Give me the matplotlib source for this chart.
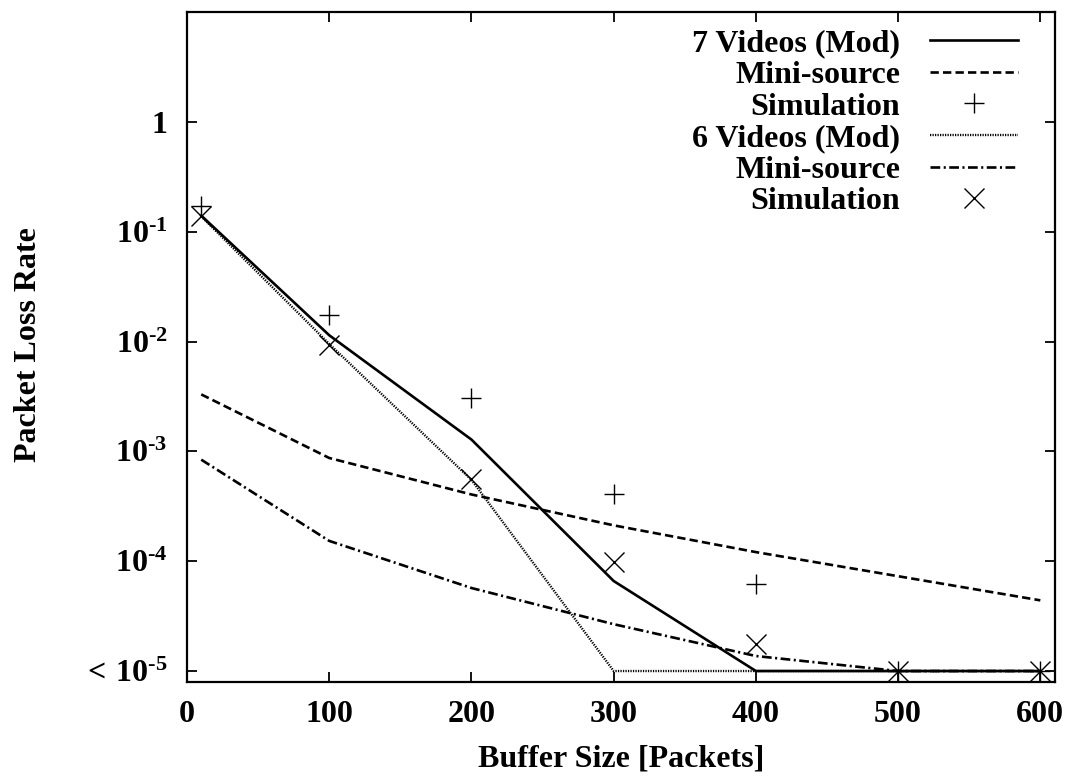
import matplotlib
matplotlib.use('Agg')
import matplotlib.pyplot as plt
import matplotlib.ticker as mticker

plt.rcParams['font.family'] = ['Liberation Serif', 'DejaVu Serif']
plt.rcParams['font.weight'] = 'bold'
plt.rcParams['font.size'] = 23
plt.rcParams['mathtext.fontset'] = 'custom'
plt.rcParams['mathtext.rm'] = 'Liberation Serif:bold'
plt.rcParams['mathtext.it'] = 'Liberation Serif:bold'
plt.rcParams['mathtext.bf'] = 'Liberation Serif:bold'
plt.rcParams['lines.scale_dashes'] = False

buffer_size = [10, 100, 200, 300, 400, 500, 600]

# 7 video sources
mod7 = [0.14, 0.0114, 1.28e-3, 6.6e-5, 1e-5, 1e-5, 1e-5]
mini7 = [3.3e-3, 8.7e-4, 4.05e-4, 2.12e-4, 1.21e-4, 7.3e-5, 4.4e-5]
sim7 = [0.172, 0.0173, 3.05e-3, 4.07e-4, 6.2e-5, 1e-5, 1e-5]

# 6 video sources
mod6 = [0.138, 0.0095, 5.5e-4, 1e-5, 1e-5, 1e-5, 1e-5]
mini6 = [8.4e-4, 1.53e-4, 5.7e-5, 2.67e-5, 1.37e-5, 1e-5, 1e-5]
sim6 = [0.138, 0.0092, 5.65e-4, 9.9e-5, 1.75e-5, 1e-5, 1e-5]

ytick_vals = [1e-5, 1e-4, 1e-3, 1e-2, 1e-1, 1]
ytick_labels = [r'$\mathrm{<\,10^{\text{-5}}}$', r'$\mathrm{10^{\text{-4}}}$',
                r'$\mathrm{10^{\text{-3}}}$', r'$\mathrm{10^{\text{-2}}}$',
                r'$\mathrm{10^{\text{-1}}}$', r'$\mathrm{1}$']
xtick_vals = [0, 100, 200, 300, 400, 500, 600]

fig = plt.figure(figsize=(10.73, 7.79), dpi=100)
ax = fig.add_axes([0.1743, 0.1245, 0.8085, 0.8601])

ax.plot(buffer_size, mod7, color='black', lw=1.9, label='7 Videos (Mod)')
ax.plot(buffer_size, mini7, color='black', lw=1.9, dashes=(6, 3), label='Mini-source')
ax.plot(buffer_size, sim7, ls='none', marker='+', ms=15, mew=1.0, color='black',
        label='Simulation')
ax.plot(buffer_size, mod6, color='black', lw=1.7, dashes=(0.9, 0.9), label='6 Videos (Mod)')
ax.plot(buffer_size, mini6, color='black', lw=1.9, dashes=(7, 2.5, 1.5, 2.5),
        label='Mini-source')
ax.plot(buffer_size, sim6, ls='none', marker='x', ms=15, mew=1.0, color='black',
        label='Simulation')

ax.set_yscale('log')
ax.set_xlim(0, 610)
ax.set_ylim(10 ** -5.1, 10)

ax.set_xticks(xtick_vals)
ax.set_yticks(ytick_vals)
ax.set_yticklabels(ytick_labels)
ax.yaxis.set_minor_locator(mticker.NullLocator())

ax.tick_params(which='major', direction='in', length=7, width=1.3,
               top=True, right=True, labelsize=23)
ax.tick_params(axis='x', pad=13)
ax.tick_params(axis='y', pad=14)
for s in ax.spines.values():
    s.set_linewidth(1.6)

ax.set_xlabel('Buffer Size [Packets]', fontsize=23, fontweight='bold', labelpad=11)
ax.set_ylabel('Packet Loss Rate', fontsize=23, fontweight='bold')
ax.yaxis.set_label_coords(-0.1665, 0.503)

leg = ax.legend(loc='upper right', bbox_to_anchor=(0.958, 0.9745),
                markerfirst=False, frameon=False,
                handlelength=2.75, handletextpad=0.94, labelspacing=0.07,
                borderaxespad=0, borderpad=0, fontsize=23)

fig.savefig('out.png', dpi=100)
